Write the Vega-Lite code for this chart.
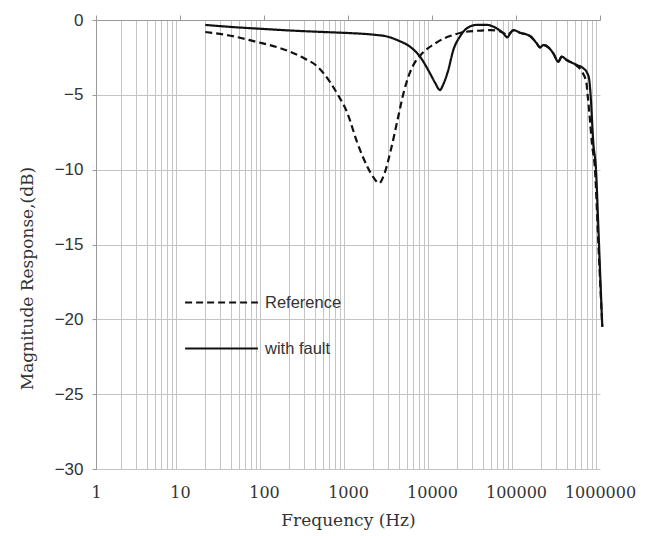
{
  "$schema": "https://vega.github.io/schema/vega-lite/v6.json",
  "autosize": "none",
  "width": 504,
  "height": 449,
  "padding": {"left": 96, "top": 20, "right": 45, "bottom": 67},
  "background": "white",
  "config": {
    "view": {"stroke": null},
    "legend": {
      "orient": "none",
      "legendX": 88,
      "legendY": 245,
      "symbolType": "stroke",
      "symbolSize": 5300,
      "symbolStrokeWidth": 2,
      "symbolStrokeColor": "#111",
      "labelFont": "Liberation Sans",
      "labelFontSize": 16.5,
      "labelColor": "#333",
      "rowPadding": 0,
      "labelOffset": 6
    }
  },
  "data": {
    "values": [
      {"f": 20, "db": -0.8, "series": "Reference"},
      {"f": 40, "db": -1.05, "series": "Reference"},
      {"f": 80, "db": -1.45, "series": "Reference"},
      {"f": 150, "db": -1.85, "series": "Reference"},
      {"f": 200, "db": -2.1, "series": "Reference"},
      {"f": 300, "db": -2.55, "series": "Reference"},
      {"f": 430, "db": -3.1, "series": "Reference"},
      {"f": 510, "db": -3.55, "series": "Reference"},
      {"f": 620, "db": -4.2, "series": "Reference"},
      {"f": 740, "db": -4.9, "series": "Reference"},
      {"f": 980, "db": -6.2, "series": "Reference"},
      {"f": 1290, "db": -8.2, "series": "Reference"},
      {"f": 1700, "db": -9.8, "series": "Reference"},
      {"f": 2000, "db": -10.5, "series": "Reference"},
      {"f": 2350, "db": -10.9, "series": "Reference"},
      {"f": 2700, "db": -10.3, "series": "Reference"},
      {"f": 3230, "db": -8.7, "series": "Reference"},
      {"f": 3880, "db": -6.7, "series": "Reference"},
      {"f": 4670, "db": -4.7, "series": "Reference"},
      {"f": 5300, "db": -3.7, "series": "Reference"},
      {"f": 6150, "db": -2.9, "series": "Reference"},
      {"f": 7300, "db": -2.35, "series": "Reference"},
      {"f": 8900, "db": -1.9, "series": "Reference"},
      {"f": 11000, "db": -1.55, "series": "Reference"},
      {"f": 14000, "db": -1.22, "series": "Reference"},
      {"f": 18000, "db": -1.0, "series": "Reference"},
      {"f": 22000, "db": -0.85, "series": "Reference"},
      {"f": 35000, "db": -0.72, "series": "Reference"},
      {"f": 50000, "db": -0.68, "series": "Reference"},
      {"f": 61000, "db": -0.72, "series": "Reference"},
      {"f": 70000, "db": -0.85, "series": "Reference"},
      {"f": 79000, "db": -1.0, "series": "Reference"},
      {"f": 93000, "db": -0.7, "series": "Reference"},
      {"f": 111600, "db": -0.85, "series": "Reference"},
      {"f": 146900, "db": -1.07, "series": "Reference"},
      {"f": 176400, "db": -1.56, "series": "Reference"},
      {"f": 193000, "db": -1.83, "series": "Reference"},
      {"f": 211600, "db": -1.67, "series": "Reference"},
      {"f": 242600, "db": -1.83, "series": "Reference"},
      {"f": 278200, "db": -2.23, "series": "Reference"},
      {"f": 319000, "db": -2.79, "series": "Reference"},
      {"f": 349800, "db": -2.45, "series": "Reference"},
      {"f": 401000, "db": -2.67, "series": "Reference"},
      {"f": 527000, "db": -3.05, "series": "Reference"},
      {"f": 610000, "db": -3.45, "series": "Reference"},
      {"f": 690000, "db": -4.23, "series": "Reference"},
      {"f": 715000, "db": -5.1, "series": "Reference"},
      {"f": 760000, "db": -6.7, "series": "Reference"},
      {"f": 800000, "db": -8.2, "series": "Reference"},
      {"f": 871000, "db": -10.0, "series": "Reference"},
      {"f": 955000, "db": -14.9, "series": "Reference"},
      {"f": 1065000, "db": -20.5, "series": "Reference"},
      {"f": 20, "db": -0.33, "series": "with fault"},
      {"f": 50, "db": -0.5, "series": "with fault"},
      {"f": 100, "db": -0.6, "series": "with fault"},
      {"f": 200, "db": -0.7, "series": "with fault"},
      {"f": 500, "db": -0.8, "series": "with fault"},
      {"f": 1000, "db": -0.87, "series": "with fault"},
      {"f": 2000, "db": -0.98, "series": "with fault"},
      {"f": 3000, "db": -1.12, "series": "with fault"},
      {"f": 4000, "db": -1.38, "series": "with fault"},
      {"f": 5470, "db": -1.78, "series": "with fault"},
      {"f": 7200, "db": -2.45, "series": "with fault"},
      {"f": 9460, "db": -3.56, "series": "with fault"},
      {"f": 10900, "db": -4.2, "series": "with fault"},
      {"f": 12450, "db": -4.68, "series": "with fault"},
      {"f": 13500, "db": -4.35, "series": "with fault"},
      {"f": 15630, "db": -3.34, "series": "with fault"},
      {"f": 17950, "db": -2.0, "series": "with fault"},
      {"f": 21540, "db": -1.1, "series": "with fault"},
      {"f": 25870, "db": -0.56, "series": "with fault"},
      {"f": 34050, "db": -0.33, "series": "with fault"},
      {"f": 44770, "db": -0.33, "series": "with fault"},
      {"f": 58900, "db": -0.56, "series": "with fault"},
      {"f": 70600, "db": -0.89, "series": "with fault"},
      {"f": 78800, "db": -1.16, "series": "with fault"},
      {"f": 85000, "db": -0.9, "series": "with fault"},
      {"f": 92900, "db": -0.67, "series": "with fault"},
      {"f": 111600, "db": -0.85, "series": "with fault"},
      {"f": 146900, "db": -1.07, "series": "with fault"},
      {"f": 176400, "db": -1.56, "series": "with fault"},
      {"f": 193000, "db": -1.83, "series": "with fault"},
      {"f": 211600, "db": -1.67, "series": "with fault"},
      {"f": 242600, "db": -1.83, "series": "with fault"},
      {"f": 278200, "db": -2.23, "series": "with fault"},
      {"f": 319000, "db": -2.79, "series": "with fault"},
      {"f": 349800, "db": -2.45, "series": "with fault"},
      {"f": 401000, "db": -2.67, "series": "with fault"},
      {"f": 527000, "db": -3.0, "series": "with fault"},
      {"f": 632000, "db": -3.22, "series": "with fault"},
      {"f": 706000, "db": -3.56, "series": "with fault"},
      {"f": 740000, "db": -3.9, "series": "with fault"},
      {"f": 775000, "db": -5.1, "series": "with fault"},
      {"f": 832000, "db": -8.2, "series": "with fault"},
      {"f": 896000, "db": -10.0, "series": "with fault"},
      {"f": 955000, "db": -13.8, "series": "with fault"},
      {"f": 1000000, "db": -16.7, "series": "with fault"},
      {"f": 1065000, "db": -20.5, "series": "with fault"}
    ]
  },
  "layer": [
    {
      "mark": {"type": "line", "clip": false, "color": "#111", "strokeWidth": 2.2, "interpolate": "monotone"},
      "encoding": {
        "x": {
          "field": "f", "type": "quantitative",
          "scale": {"type": "log", "domain": [1, 1000000], "nice": false},
          "axis": {
            "orient": "bottom", "title": null, "labels": false, "ticks": false, "domain": false,
            "grid": true, "gridColor": "#c4c4c4", "gridWidth": 1,
            "values": [2,3,4,5,6,7,8,9,20,30,40,50,60,70,80,90,200,300,400,500,600,700,800,900,2000,3000,4000,5000,6000,7000,8000,9000,20000,30000,40000,50000,60000,70000,80000,90000,200000,300000,400000,500000,600000,700000,800000,900000]
          }
        },
        "y": {
          "field": "db", "type": "quantitative",
          "scale": {"domain": [-30, 0], "nice": false},
          "axis": {
            "values": [-30, -25, -20, -15, -10, -5, 0],
            "title": "Magnitude  Response,(dB)",
            "titleFont": "DejaVu Serif", "titleFontSize": 17, "titleFontWeight": "normal", "titleColor": "#333",
            "titleY": 258,
            "titlePadding": 18,
            "labelFont": "Liberation Sans", "labelFontSize": 17, "labelColor": "#333", "labelPadding": 9,
            "grid": true, "gridColor": "#c4c4c4",
            "domain": true, "domainColor": "#9a9a9a",
            "ticks": true, "tickSize": 4, "tickColor": "#9a9a9a"
          }
        },
        "strokeDash": {
          "field": "series", "type": "nominal",
          "scale": {"domain": ["Reference", "with fault"], "range": [[7, 4], [1, 0]]},
          "legend": {"title": null}
        }
      }
    },
    {
      "mark": {"type": "line", "opacity": 0},
      "encoding": {
        "x": {
          "field": "f", "type": "quantitative",
          "axis": {
            "orient": "bottom", "values": [1, 10, 100, 1000, 10000, 100000, 1000000], "format": "d",
            "grid": false, "ticks": false, "domain": false, "labelOverlap": false, "labelBound": false, "labelFlush": false,
            "labelFont": "DejaVu Serif", "labelFontSize": 16, "labelColor": "#333", "labelPadding": 15,
            "title": "Frequency (Hz)", "titleFont": "DejaVu Serif", "titleFontSize": 17, "titleFontWeight": "normal", "titleColor": "#333", "titlePadding": 12
          }
        },
        "y": {"field": "db", "type": "quantitative"},
        "detail": {"field": "series"}
      }
    },
    {
      "mark": {"type": "line", "opacity": 0},
      "encoding": {
        "x": {
          "field": "f", "type": "quantitative",
          "axis": {
            "orient": "top", "values": [1, 10, 100, 1000, 10000, 100000, 1000000],
            "grid": false, "labels": false, "title": null,
            "ticks": true, "tickSize": 5, "tickColor": "#9a9a9a",
            "domain": true, "domainColor": "#9a9a9a"
          }
        },
        "y": {"field": "db", "type": "quantitative"},
        "detail": {"field": "series"}
      }
    }
  ],
  "resolve": {"axis": {"x": "independent"}}
}
